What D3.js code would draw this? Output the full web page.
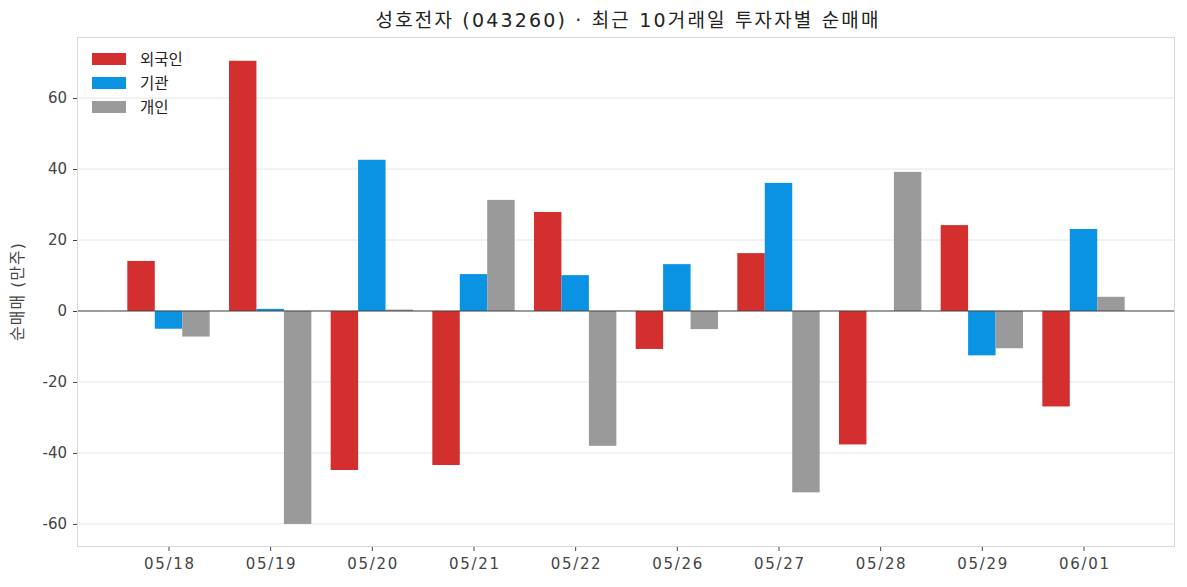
<!DOCTYPE html>
<html>
<head>
<meta charset="utf-8">
<script src="https://cdn.jsdelivr.net/npm/d3@7"></script>
<style>
  html, body { margin: 0; padding: 0; background: #fff; }
  svg { display: block; font-family: "DejaVu Sans", "Noto Sans CJK KR", sans-serif; }
</style>
</head>
<body>
<div id="chart"></div>
<script>
const dates = ["05/18","05/19","05/20","05/21","05/22","05/26","05/27","05/28","05/29","06/01"];
const foreign = [14.1, 70.5, -44.8, -43.4, 27.9, -10.7, 16.3, -37.6, 24.2, -26.9];
const institution = [-5.0, 0.6, 42.6, 10.4, 10.1, 13.2, 36.1, 0.0, -12.5, 23.1];
const individual = [-7.2, -60.0, 0.4, 31.3, -38.0, -5.1, -51.1, 39.2, -10.5, 4.0];
const seriesNames = ["외국인", "기관", "개인"];
const seriesColors = ["#d32f2f", "#0a93e2", "#9a9a9a"];
const yTicks = [-60, -40, -20, 0, 20, 40, 60];
const titleText = "성호전자 (043260)  ·  최근 10거래일 투자자별 순매매";
const yLabel = "순매매 (만주)";

const W = 1187, H = 587;
const m = {left: 77, top: 37, right: 12, bottom: 40};
const iw = W - m.left - m.right, ih = H - m.top - m.bottom;

const svg = d3.select("#chart").append("svg").attr("width", W).attr("height", H);

const x = d3.scaleLinear().domain([-0.9, dates.length - 0.1]).range([m.left, m.left + iw]);
const y = d3.scaleLinear().domain([-66.5, 77.2]).range([m.top + ih, m.top]);
const barW = 0.27;
const offsets = [-barW, 0, barW];
const series = [foreign, institution, individual];

// grid
svg.append("g").selectAll("line").data(yTicks).join("line")
  .attr("x1", m.left).attr("x2", m.left + iw)
  .attr("y1", d => y(d)).attr("y2", d => y(d))
  .attr("stroke", "#e6e6e6").attr("stroke-width", 1);

// bars
series.forEach((vals, si) => {
  svg.append("g").selectAll("rect").data(vals).join("rect")
    .attr("x", (d, i) => x(i + offsets[si] - barW / 2))
    .attr("width", (d, i) => x(i + offsets[si] + barW / 2) - x(i + offsets[si] - barW / 2))
    .attr("y", d => y(Math.max(0, d)))
    .attr("height", d => Math.abs(y(d) - y(0)))
    .attr("fill", seriesColors[si]);
});

// zero line
svg.append("line")
  .attr("x1", m.left).attr("x2", m.left + iw)
  .attr("y1", y(0)).attr("y2", y(0))
  .attr("stroke", "#444").attr("stroke-width", 1);

// frame
svg.append("rect")
  .attr("x", m.left + 0.5).attr("y", m.top + 0.5)
  .attr("width", iw - 1).attr("height", ih - 1)
  .attr("fill", "none").attr("stroke", "#d9d9d9").attr("stroke-width", 1);

// axes
const yAxis = d3.axisLeft(y).tickValues(yTicks).tickSize(4).tickPadding(6).tickFormat(d3.format("d"));
const gy = svg.append("g").attr("transform", `translate(${m.left},0)`).call(yAxis);
gy.select(".domain").remove();
gy.selectAll(".tick line").attr("stroke", "#444");
gy.selectAll(".tick text").attr("fill", "#444").attr("font-size", 15)
  .attr("font-family", "'DejaVu Sans', sans-serif")
  .text(d => d < 0 ? "-" + Math.abs(d) : d);

const xAxis = d3.axisBottom(x).tickValues(d3.range(dates.length)).tickSize(4).tickPadding(7)
  .tickFormat(i => dates[i]);
const gx = svg.append("g").attr("transform", `translate(0,${m.top + ih})`).call(xAxis);
gx.select(".domain").remove();
gx.selectAll(".tick line").attr("stroke", "#444");
gx.selectAll(".tick text").attr("fill", "#444").attr("font-size", 15)
  .attr("font-family", "'DejaVu Sans', sans-serif")
  .attr("textLength", 50).attr("lengthAdjust", "spacing");

// title
svg.append("text").attr("x", m.left + iw / 2 + 1).attr("y", 27)
  .attr("text-anchor", "middle").attr("font-size", 19).attr("fill", "#222")
  .attr("textLength", 503).attr("lengthAdjust", "spacing")
  .text(titleText);

// y label
svg.append("text")
  .attr("transform", `translate(23,${m.top + ih / 2}) rotate(-90)`)
  .attr("text-anchor", "middle").attr("font-size", 16).attr("fill", "#444")
  .attr("textLength", 98).attr("lengthAdjust", "spacing")
  .text(yLabel);

// legend
const lg = svg.append("g");
seriesNames.forEach((n, i) => {
  const cy = 59 + i * 24;
  lg.append("rect").attr("x", 92).attr("y", cy - 6).attr("width", 34).attr("height", 12)
    .attr("fill", seriesColors[i]);
  lg.append("text").attr("x", 140).attr("y", cy + 5.5).attr("font-size", 15.5).attr("fill", "#222")
    .text(n);
});
</script>
</body>
</html>
